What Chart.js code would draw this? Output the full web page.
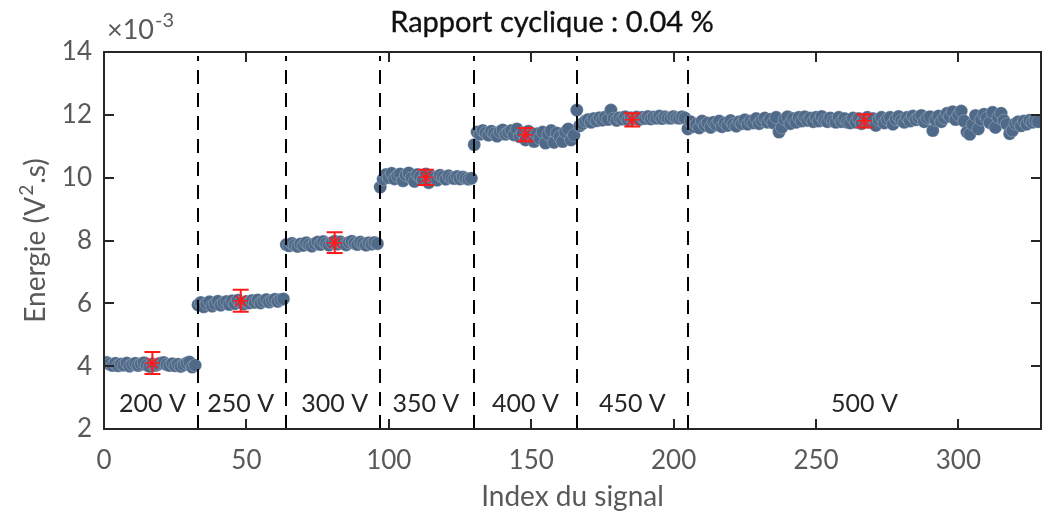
<!DOCTYPE html>
<html>
<head>
<meta charset="utf-8">
<script src="https://cdn.jsdelivr.net/npm/chart.js@4.4.1/dist/chart.umd.min.js"></script>
<style>
  html, body { margin: 0; padding: 0; background: #ffffff; }
  #wrap { width: 1043px; height: 514px; }
</style>
</head>
<body>
<div id="wrap"><canvas id="c" width="1043" height="514"></canvas></div>
<script>
// ---------- data ----------
const chartTitle = 'Rapport cyclique : 0.04 %';
const xTitle = 'Index du signal';
const yTitleParts = ['Energie (V', '2', '.s)'];
const xTicks = [0, 50, 100, 150, 200, 250, 300];
const yTicks = [2, 4, 6, 8, 10, 12, 14];
const voltageLabels = ['200 V', '250 V', '300 V', '350 V', '400 V', '450 V', '500 V'];

const e200 = [4.12, 4.06, 4.02, 4.09, 4.01, 4.07, 4.03, 4.10, 4.00, 4.06, 4.09, 4.02, 4.07, 4.11, 4.03, 3.99,
              4.07, 4.02, 4.06, 4.10, 4.12, 4.05, 4.02, 4.08, 4.01, 4.06, 3.99, 4.04, 4.10, 4.13, 3.97, 4.03];
const e250 = [5.95, 6.03, 5.89, 5.99, 6.05, 5.91, 5.98, 6.07, 5.94, 6.02, 6.06, 5.96, 6.08, 5.99, 6.10, 6.02,
              5.97, 6.06, 6.01, 6.09, 6.03, 6.11, 6.01, 6.07, 6.12, 6.04, 6.09, 6.13, 6.06, 6.12, 6.14];
const e300 = [7.87, 7.83, 7.91, 7.85, 7.81, 7.89, 7.84, 7.93, 7.86, 7.82, 7.90, 7.95, 7.87, 7.97, 7.90, 7.85,
              7.93, 7.98, 7.88, 7.96, 7.90, 7.86, 7.94, 7.98, 7.91, 7.87, 7.95, 7.90, 7.85, 7.93, 7.88, 7.94, 7.90];
const e350 = [9.70, 9.95, 10.10, 10.00, 10.14, 9.96, 10.06, 10.12, 9.90, 10.08, 10.15, 9.99, 9.88, 10.10, 10.03,
              9.93, 10.12, 9.84, 10.05, 9.99, 9.92, 10.08, 10.02, 9.95, 10.06, 9.99, 9.97, 10.04, 9.96, 10.02,
              9.98, 9.95, 9.98];
const e400 = [11.05, 11.45, 11.38, 11.50, 11.42, 11.35, 11.48, 11.40, 11.32, 11.46, 11.52, 11.38, 11.44, 11.50,
              11.36, 11.55, 11.30, 11.42, 11.20, 11.48, 11.35, 11.15, 11.40, 11.25, 11.45, 11.10, 11.38, 11.50,
              11.12, 11.42, 11.30, 11.15, 11.45, 11.55, 11.20, 11.35];
const e450 = [12.15, 11.65, 11.72, 11.80, 11.85, 11.76, 11.88, 11.81, 11.91, 11.83, 11.93, 11.85, 12.15, 11.88,
              11.82, 11.91, 11.86, 11.94, 11.84, 11.91, 11.87, 11.93, 11.85, 11.92, 11.88, 11.95, 11.87, 11.93,
              11.89, 11.96, 11.88, 11.94, 11.90, 11.89, 11.95, 11.91, 11.89, 11.94, 11.90];
const e500 = [11.55, 11.78, 11.62, 11.70, 11.58, 11.80, 11.66, 11.74, 11.60, 11.76,
              11.68, 11.80, 11.62, 11.74, 11.66, 11.82, 11.70, 11.64, 11.78, 11.72,
              11.84, 11.70, 11.80, 11.74, 11.88, 11.72, 11.82, 11.90, 11.76, 11.86,
              11.74, 11.92, 11.45, 11.60, 11.86, 11.94, 11.72, 11.88, 11.76, 11.92,
              11.80, 11.94, 11.82, 11.90, 11.78, 11.92, 11.80, 11.95, 11.82, 11.78,
              11.90, 11.80, 11.76, 11.92, 11.78, 11.88, 11.76, 11.74, 11.90, 11.76,
              11.88, 11.72, 11.86, 11.92, 11.76, 11.88, 11.66, 11.84, 11.92, 11.74,
              11.86, 11.92, 11.70, 11.86, 11.95, 11.82, 11.76, 11.92, 11.80, 11.96,
              11.84, 11.92, 11.98, 11.78, 11.90, 11.94, 11.50, 11.84, 11.96, 11.78,
              11.90, 12.05, 11.95, 12.10, 11.85, 12.00, 12.12, 11.80, 11.45, 11.38,
              11.70, 11.98, 11.55, 11.85, 12.02, 11.90, 11.75, 12.08, 11.60, 11.92,
              12.05, 11.82, 11.70, 11.40, 11.50, 11.72, 11.78, 11.65, 11.80, 11.70,
              11.83, 11.76, 11.82, 11.78];

const meanX   = [17, 48, 81, 113, 148, 185.5, 267];
const meanE   = [4.10, 6.08, 7.93, 10.01, 11.37, 11.84, 11.81];
const errE    = [0.35, 0.35, 0.33, 0.24, 0.21, 0.21, 0.21];
const xMax = 329;
const yMin = 2, yMax = 14;
const exponentText = '×10';
const exponentSup = '-3';

// ---------- build ----------
const segments = [e200, e250, e300, e350, e400, e450, e500];
const points = [];
const boundaries = [];
let idx = 1;
segments.forEach((seg, s) => {
  if (s > 0) boundaries.push(idx);
  seg.forEach(v => { points.push({ x: idx, y: v }); idx++; });
});
const means = meanX.map((x, i) => ({ x: x, y: meanE[i] }));

const AXIS_COLOR = '#262626';
const TEXT_COLOR = '#595959';
const FONT = 'Lato, "Open Sans", sans-serif';

const overlay = {
  id: 'overlay',
  afterDatasetsDraw(chart) {
    const { ctx, chartArea: a, scales: { x, y } } = chart;
    ctx.save();
    // dashed separators
    ctx.strokeStyle = '#000000';
    ctx.lineWidth = 2;
    ctx.setLineDash([14, 9]);
    boundaries.forEach(b => {
      const px = Math.round(x.getPixelForValue(b));
      ctx.beginPath();
      ctx.moveTo(px, y.getPixelForValue(yMin));
      ctx.lineTo(px, y.getPixelForValue(yMax) + 4);
      ctx.stroke();
    });
    ctx.setLineDash([]);
    // error bars
    ctx.strokeStyle = '#ff1a1a';
    ctx.lineWidth = 2;
    means.forEach((m, i) => {
      const px = x.getPixelForValue(m.x);
      const top = y.getPixelForValue(m.y + errE[i]);
      const bot = y.getPixelForValue(m.y - errE[i]);
      ctx.beginPath();
      ctx.moveTo(px, top); ctx.lineTo(px, bot);
      ctx.moveTo(px - 8, top); ctx.lineTo(px + 8, top);
      ctx.moveTo(px - 8, bot); ctx.lineTo(px + 8, bot);
      ctx.stroke();
    });
    // voltage labels
    ctx.fillStyle = '#262626';
    ctx.font = '25px ' + FONT;
    ctx.textAlign = 'center';
    ctx.textBaseline = 'middle';
    voltageLabels.forEach((t, i) => {
      ctx.fillText(t, x.getPixelForValue(meanX[i]), y.getPixelForValue(2.8));
    });
    // box
    ctx.strokeStyle = AXIS_COLOR;
    ctx.lineWidth = 2;
    ctx.strokeRect(a.left, a.top, a.right - a.left, a.bottom - a.top);
    // inward ticks
    const tl = 10;
    ctx.beginPath();
    xTicks.forEach(v => {
      const px = Math.round(x.getPixelForValue(v));
      ctx.moveTo(px, a.bottom); ctx.lineTo(px, a.bottom - tl);
      ctx.moveTo(px, a.top); ctx.lineTo(px, a.top + tl);
    });
    yTicks.forEach(v => {
      const py = Math.round(y.getPixelForValue(v));
      ctx.moveTo(a.left, py); ctx.lineTo(a.left + tl, py);
      ctx.moveTo(a.right, py); ctx.lineTo(a.right - tl, py);
    });
    ctx.stroke();
    // title
    ctx.fillStyle = '#111111';
    ctx.strokeStyle = '#111111';
    ctx.lineWidth = 0.35;
    ctx.font = '29px ' + FONT;
    ctx.textAlign = 'center';
    ctx.textBaseline = 'middle';
    ctx.fillText(chartTitle, 552, 23);
    ctx.strokeText(chartTitle, 552, 23);
    // exponent
    ctx.fillStyle = TEXT_COLOR;
    ctx.textAlign = 'left';
    ctx.textBaseline = 'alphabetic';
    ctx.font = '27px ' + FONT;
    ctx.fillText(exponentText, a.left + 3, 39);
    const w = ctx.measureText(exponentText).width;
    ctx.font = '20px ' + FONT;
    ctx.fillText(exponentSup, a.left + 3 + w + 1, 27);
    // axis titles
    ctx.font = '28px ' + FONT;
    ctx.textAlign = 'center';
    ctx.textBaseline = 'middle';
    ctx.fillText(xTitle, (a.left + a.right) / 2, 497);
    // y title with superscript
    ctx.save();
    ctx.translate(36, (a.top + a.bottom) / 2);
    ctx.rotate(-Math.PI / 2);
    const bigF = '28px ' + FONT, supF = '19px ' + FONT;
    ctx.font = bigF; const w0 = ctx.measureText(yTitleParts[0]).width;
    ctx.font = supF; const w1 = ctx.measureText(yTitleParts[1]).width;
    ctx.font = bigF; const w2 = ctx.measureText(yTitleParts[2]).width;
    const total = w0 + w1 + 2 + w2;
    let cx = -total / 2;
    ctx.textAlign = 'left';
    ctx.textBaseline = 'alphabetic';
    ctx.font = bigF; ctx.fillText(yTitleParts[0], cx, 9); cx += w0 + 1;
    ctx.font = supF; ctx.fillText(yTitleParts[1], cx, -3); cx += w1 + 1;
    ctx.font = bigF; ctx.fillText(yTitleParts[2], cx, 9);
    ctx.restore();
    ctx.restore();
  }
};

new Chart(document.getElementById('c'), {
  type: 'scatter',
  data: {
    datasets: [
      {
        label: 'Energie',
        data: points,
        pointRadius: 6.5,
        pointHoverRadius: 6.5,
        backgroundColor: 'rgb(79,105,136)',
        borderColor: 'rgba(235,240,245,0.45)',
        borderWidth: 0.6,
        order: 2
      },
      {
        label: 'Moyenne',
        data: means,
        pointStyle: 'star',
        pointRadius: 7.5,
        pointHoverRadius: 7.5,
        borderColor: '#ff1a1a',
        backgroundColor: '#ff1a1a',
        borderWidth: 1.5,
        order: 1
      }
    ]
  },
  options: {
    responsive: false,
    animation: false,
    devicePixelRatio: 1,
    layout: { autoPadding: false, padding: { top: 52, right: 2, left: 0, bottom: 0 } },
    plugins: { legend: { display: false }, tooltip: { enabled: false }, title: { display: false } },
    scales: {
      x: {
        type: 'linear', min: 0, max: xMax,
        afterBuildTicks(s) { s.ticks = xTicks.map(v => ({ value: v })); },
        afterFit(s) { s.height = 85; s.paddingRight = 0; s.paddingLeft = 0; },
        grid: { display: false, drawTicks: false },
        border: { display: false },
        ticks: { padding: 16, color: TEXT_COLOR, font: { family: FONT, size: 26 }, maxRotation: 0 }
      },
      y: {
        type: 'linear', min: yMin, max: yMax,
        afterBuildTicks(s) { s.ticks = yTicks.map(v => ({ value: v })); },
        afterFit(s) { s.width = 104; s.paddingTop = 0; s.paddingBottom = 0; },
        grid: { display: false, drawTicks: false },
        border: { display: false },
        ticks: { padding: 12, color: TEXT_COLOR, font: { family: FONT, size: 26 } }
      }
    }
  },
  plugins: [overlay]
});
</script>
</body>
</html>
